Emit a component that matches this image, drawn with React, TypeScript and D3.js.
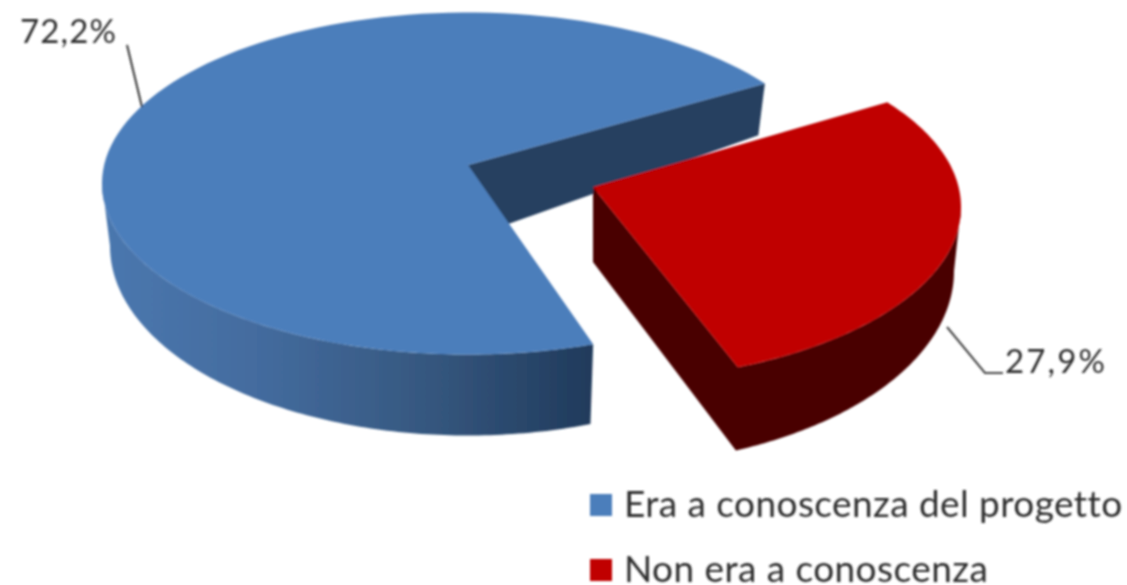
import React from "react";
import * as d3 from "d3";

const categories = ["Non era a conoscenza", "Era a conoscenza del progetto"];
const values = [27.9, 72.2];
const valueLabels = ["27,9%", "72,2%"];
const legendOrder = [1, 0];

const BLUE = "#4c7ebb";
const RED = "#c00000";
const RED_DARK = "#4a0000";
const BLUE_WALL = "#253f60";

type Disc = { cx: number; cy: number; rx: number; ry: number };
const blueTop: Disc = { cx: 468, cy: 183.5, rx: 366, ry: 171 };
const blueBase: Disc = { cx: 468, cy: 246, rx: 358, ry: 189.5 };
const redTop: Disc = { cx: 595, cy: 207, rx: 366, ry: 174 };
const redBase: Disc = { cx: 596, cy: 271, rx: 358, ry: 195 };

// perspective: the drawn angle differs slightly from the true pie angle
const rad = (d: number) => (d * Math.PI) / 180;
const pieGen = d3.pie<number>().sort(null).value((d) => d);
const arcs = pieGen(values);
const warp = d3
  .scaleLinear()
  .domain([0, arcs[0].endAngle, arcs[0].endAngle + 1e-6, Math.PI * 2])
  .range([rad(53), rad(157), rad(160), rad(414.2)]);

const pt = (d: Disc, t: number): [number, number] => [d.cx + d.rx * Math.sin(t), d.cy - d.ry * Math.cos(t)];
const sweep = (d: Disc, a: number, b: number): [number, number][] =>
  d3.range(0, 121).map((i) => pt(d, a + ((b - a) * i) / 120));
const line = d3.line();
const closed = (p: [number, number][]) => line(p) + "Z";

const [redStart, redEnd] = [warp(arcs[0].startAngle), warp(arcs[0].endAngle)];
const [blueStart, blueEnd] = [rad(160), warp(arcs[1].endAngle)];

const blueApex: [number, number] = [468, 165];
const blueApexBase: [number, number] = [480, 234];
const redApex: [number, number] = [593, 187];
const redApexBase: [number, number] = [593, 262];

const FONT = "Lato, 'Open Sans', sans-serif";

export default function App() {
  return (
    <svg width={1127} height={585} style={{ position: "absolute", left: 0, top: 0, background: "#fff" }}>
      <defs>
        <linearGradient id="blueSide" gradientUnits="userSpaceOnUse" x1={108} x2={593} y1={0} y2={0}>
          <stop offset="0" stopColor="#4a77ae" />
          <stop offset="0.3" stopColor="#446c9f" />
          <stop offset="0.65" stopColor="#365880" />
          <stop offset="1" stopColor="#203a5b" />
        </linearGradient>
        <filter id="soft" x="-5%" y="-5%" width="110%" height="110%">
          <feGaussianBlur stdDeviation="0.8" />
        </filter>
      </defs>
      <g filter="url(#soft)">
        <path d={closed([blueApex, pt(blueTop, blueEnd), pt(blueBase, blueEnd), blueApexBase])} fill={BLUE_WALL} />
        <path
          d={closed([...sweep(blueTop, blueStart, rad(270)), ...sweep(blueBase, rad(270), blueStart)])}
          fill="url(#blueSide)"
        />
        <path d={closed([blueApex, ...sweep(blueTop, blueStart, blueEnd)])} fill={BLUE} />

        <path
          d={closed([
            redApex,
            ...sweep(redTop, redEnd, rad(90)),
            ...sweep(redBase, rad(90), redEnd),
            redApexBase,
          ])}
          fill={RED_DARK}
        />
        <path d={closed([redApex, ...sweep(redTop, redStart, redEnd)])} fill={RED} />

        <path d="M127,45L142,107" fill="none" stroke="#333" strokeWidth={2} />
        <path d="M947,327L985,373L1003,373" fill="none" stroke="#444" strokeWidth={2} />

        <text x={20} y={43} fontFamily={FONT} fontSize={33} fill="#2f2f2f" textLength={96}>{valueLabels[1]}</text>
        <text x={1005} y={373} fontFamily={FONT} fontSize={33} fill="#2f2f2f" textLength={100}>{valueLabels[0]}</text>

        {legendOrder.map((idx, i) => (
          <g key={idx} transform={`translate(0,${i * 65})`}>
            <rect x={590} y={494} width={22} height={22} fill={idx === 1 ? BLUE : RED} />
            <text x={624} y={517} fontFamily={FONT} fontSize={37} letterSpacing={0.42} fill="#2f2f2f">{categories[idx]}</text>
          </g>
        ))}
      </g>
    </svg>
  );
}
